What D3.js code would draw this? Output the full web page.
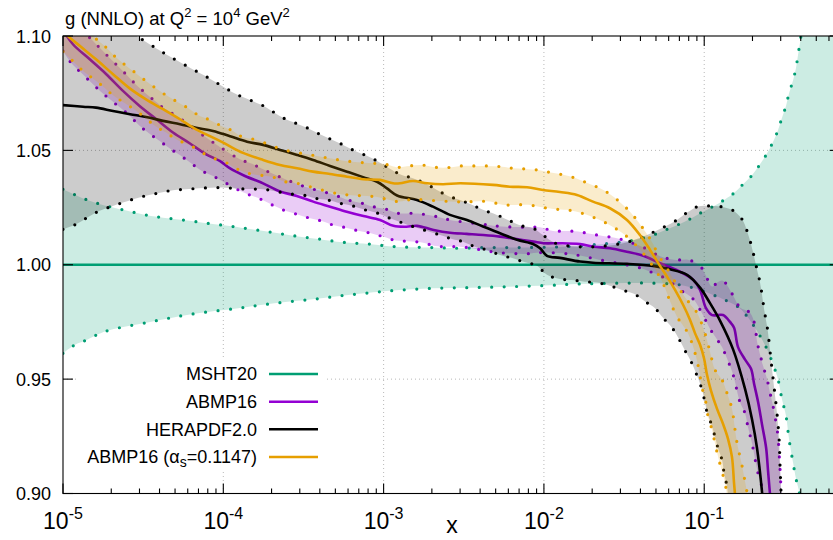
<!DOCTYPE html>
<html><head><meta charset="utf-8">
<script src="https://cdn.jsdelivr.net/npm/d3@7"></script>
<style>body{margin:0;background:#fff;}svg{display:block;font-family:"Liberation Sans",Arial,Helvetica,sans-serif;}</style>
</head><body><svg id="c" width="833" height="540"></svg>
<script>
// ---- data: [log10(x), ratio to MSHT20] ----
const mshtCentral = [[-5.0,1.0],[-0.15,1.0]];
const mshtUpper = [[-5.000,1.0330],[-4.919,1.0304],[-4.844,1.0282],[-4.769,1.0265],[-4.688,1.0250],[-4.613,1.0238],[-4.532,1.0225],[-4.451,1.0213],[-4.376,1.0206],[-4.295,1.0199],[-4.208,1.0192],[-4.127,1.0184],[-4.052,1.0177],[-3.971,1.0170],[-3.890,1.0162],[-3.727,1.0145],[-3.565,1.0127],[-3.409,1.0113],[-3.253,1.0098],[-3.085,1.0090],[-2.929,1.0079],[-2.692,1.0075],[-2.523,1.0072],[-2.355,1.0075],[-2.193,1.0075],[-2.037,1.0076],[-1.868,1.0079],[-1.650,1.0090],[-1.463,1.0105],[-1.338,1.0125],[-1.232,1.0155],[-1.163,1.0175],[-1.089,1.0200],[-1.026,1.0225],[-0.945,1.0255],[-0.883,1.0280],[-0.820,1.0310],[-0.758,1.0352],[-0.702,1.0391],[-0.652,1.0439],[-0.608,1.0487],[-0.571,1.0537],[-0.540,1.0588],[-0.515,1.0643],[-0.490,1.0694],[-0.471,1.0750],[-0.446,1.0806],[-0.427,1.0862],[-0.415,1.0917],[-0.402,1.0974],[-0.371,1.1150],[-0.153,1.3000]];
const mshtLower = [[-5.000,0.9613],[-4.925,0.9650],[-4.850,0.9672],[-4.782,0.9696],[-4.707,0.9715],[-4.457,0.9750],[-4.208,0.9783],[-3.908,0.9810],[-3.752,0.9825],[-3.584,0.9839],[-3.415,0.9851],[-3.260,0.9865],[-3.104,0.9876],[-2.941,0.9887],[-2.692,0.9897],[-2.449,0.9900],[-2.212,0.9904],[-1.962,0.9910],[-1.794,0.9916],[-1.638,0.9918],[-1.482,0.9920],[-1.338,0.9920],[-1.151,0.9912],[-1.026,0.9890],[-0.920,0.9861],[-0.858,0.9842],[-0.783,0.9813],[-0.727,0.9769],[-0.664,0.9703],[-0.608,0.9631],[-0.571,0.9565],[-0.540,0.9500],[-0.515,0.9412],[-0.490,0.9340],[-0.471,0.9238],[-0.446,0.9135],[-0.427,0.9063],[-0.409,0.9012],[-0.390,0.8950],[-0.340,0.8800],[-0.153,0.7000]];

const abmpCentral = [[-5.000,1.1027],[-4.938,1.0964],[-4.833,1.0898],[-4.730,1.0833],[-4.626,1.0760],[-4.522,1.0694],[-4.418,1.0636],[-4.314,1.0578],[-4.210,1.0531],[-4.106,1.0483],[-4.022,1.0454],[-3.960,1.0422],[-3.865,1.0388],[-3.752,1.0356],[-3.646,1.0320],[-3.542,1.0301],[-3.439,1.0276],[-3.334,1.0254],[-3.230,1.0232],[-3.126,1.0213],[-3.022,1.0196],[-2.939,1.0170],[-2.858,1.0166],[-2.792,1.0170],[-2.688,1.0152],[-2.586,1.0140],[-2.482,1.0135],[-2.378,1.0130],[-2.274,1.0123],[-2.170,1.0112],[-2.066,1.0101],[-2.003,1.0094],[-1.900,1.0094],[-1.775,1.0090],[-1.690,1.0079],[-1.588,1.0072],[-1.484,1.0057],[-1.380,1.0039],[-1.276,1.0007],[-1.172,0.9977],[-1.068,0.9934],[-1.026,0.9890],[-0.989,0.9810],[-0.951,0.9780],[-0.883,0.9780],[-0.839,0.9750],[-0.814,0.9725],[-0.789,0.9640],[-0.745,0.9585],[-0.708,0.9545],[-0.689,0.9480],[-0.664,0.9400],[-0.639,0.9300],[-0.614,0.9200],[-0.602,0.9100],[-0.590,0.9000],[-0.577,0.8900]];
const abmpUpper = [[-5.000,1.1110],[-4.844,1.1000],[-4.782,1.0956],[-4.726,1.0916],[-4.669,1.0876],[-4.613,1.0837],[-4.557,1.0796],[-4.501,1.0760],[-4.439,1.0723],[-4.376,1.0687],[-4.270,1.0640],[-4.145,1.0575],[-4.021,1.0515],[-3.896,1.0461],[-3.821,1.0441],[-3.752,1.0417],[-3.677,1.0393],[-3.603,1.0371],[-3.534,1.0352],[-3.459,1.0334],[-3.378,1.0320],[-3.291,1.0301],[-3.222,1.0283],[-3.135,1.0269],[-3.066,1.0254],[-2.985,1.0243],[-2.910,1.0225],[-2.823,1.0225],[-2.754,1.0221],[-2.667,1.0210],[-2.586,1.0196],[-2.349,1.0174],[-2.261,1.0167],[-2.105,1.0164],[-2.024,1.0164],[-1.943,1.0148],[-1.868,1.0147],[-1.787,1.0145],[-1.712,1.0135],[-1.631,1.0126],[-1.544,1.0116],[-1.475,1.0101],[-1.388,1.0079],[-1.313,1.0050],[-1.245,1.0030],[-1.170,1.0021],[-1.101,1.0022],[-1.026,0.9995],[-0.995,0.9960],[-0.951,0.9905],[-0.914,0.9925],[-0.883,0.9930],[-0.820,0.9866],[-0.777,0.9813],[-0.714,0.9790],[-0.683,0.9733],[-0.671,0.9667],[-0.633,0.9558],[-0.608,0.9500],[-0.590,0.9441],[-0.571,0.9383],[-0.552,0.9310],[-0.540,0.9252],[-0.533,0.9179],[-0.527,0.9107],[-0.521,0.9019],[-0.515,0.8900]];
const abmpLower = [[-5.000,1.0934],[-4.950,1.0883],[-4.888,1.0840],[-4.769,1.0760],[-4.707,1.0723],[-4.582,1.0650],[-4.526,1.0610],[-4.464,1.0575],[-4.395,1.0540],[-4.333,1.0508],[-4.264,1.0476],[-4.201,1.0444],[-4.133,1.0410],[-4.064,1.0388],[-3.989,1.0359],[-3.915,1.0330],[-3.846,1.0308],[-3.771,1.0288],[-3.696,1.0262],[-3.628,1.0240],[-3.546,1.0222],[-3.472,1.0206],[-3.391,1.0192],[-3.316,1.0174],[-3.235,1.0162],[-3.160,1.0149],[-3.079,1.0138],[-3.004,1.0123],[-2.923,1.0106],[-2.848,1.0103],[-2.760,1.0097],[-2.679,1.0082],[-2.604,1.0079],[-2.523,1.0079],[-2.367,1.0062],[-2.286,1.0053],[-2.199,1.0050],[-2.118,1.0047],[-2.043,1.0053],[-1.881,1.0050],[-1.775,1.0040],[-1.650,1.0021],[-1.525,1.0005],[-1.413,0.9989],[-1.338,0.9970],[-1.263,0.9948],[-1.201,0.9919],[-1.139,0.9885],[-1.070,0.9851],[-1.008,0.9780],[-0.964,0.9720],[-0.926,0.9680],[-0.889,0.9640],[-0.852,0.9580],[-0.820,0.9520],[-0.777,0.9400],[-0.745,0.9350],[-0.727,0.9290],[-0.702,0.9220],[-0.677,0.9130],[-0.658,0.9070],[-0.633,0.9010],[-0.621,0.8900]];

const heraCentral = [[-5.000,1.0698],[-4.875,1.0691],[-4.794,1.0687],[-4.688,1.0672],[-4.582,1.0658],[-4.482,1.0646],[-4.376,1.0629],[-4.270,1.0614],[-4.170,1.0599],[-4.064,1.0585],[-3.958,1.0562],[-3.852,1.0538],[-3.752,1.0524],[-3.646,1.0502],[-3.540,1.0480],[-3.440,1.0458],[-3.334,1.0432],[-3.228,1.0407],[-3.128,1.0383],[-3.041,1.0363],[-2.979,1.0334],[-2.916,1.0303],[-2.792,1.0283],[-2.692,1.0254],[-2.586,1.0218],[-2.480,1.0196],[-2.380,1.0167],[-2.274,1.0138],[-2.168,1.0109],[-2.068,1.0091],[-2.024,1.0072],[-1.981,1.0039],[-1.900,1.0030],[-1.775,1.0014],[-1.694,1.0009],[-1.482,1.0004],[-1.319,0.9995],[-1.213,0.9980],[-1.107,0.9956],[-1.026,0.9900],[-0.964,0.9832],[-0.901,0.9755],[-0.820,0.9630],[-0.745,0.9456],[-0.702,0.9325],[-0.671,0.9200],[-0.639,0.9004],[-0.627,0.8900]];
const heraUpper = [[-5.000,1.1250],[-4.750,1.1120],[-4.582,1.1020],[-4.482,1.0974],[-4.401,1.0939],[-4.333,1.0910],[-4.264,1.0883],[-4.189,1.0854],[-4.120,1.0828],[-4.052,1.0800],[-3.983,1.0771],[-3.908,1.0742],[-3.833,1.0720],[-3.759,1.0698],[-3.690,1.0669],[-3.621,1.0640],[-3.546,1.0618],[-3.472,1.0597],[-3.397,1.0570],[-3.322,1.0546],[-3.253,1.0524],[-3.178,1.0497],[-3.104,1.0476],[-3.035,1.0451],[-2.966,1.0422],[-2.898,1.0396],[-2.817,1.0378],[-2.742,1.0356],[-2.667,1.0327],[-2.598,1.0301],[-2.523,1.0283],[-2.449,1.0262],[-2.380,1.0240],[-2.293,1.0218],[-2.224,1.0196],[-2.137,1.0170],[-2.068,1.0160],[-2.006,1.0130],[-1.931,1.0095],[-1.806,1.0080],[-1.650,1.0080],[-1.475,1.0100],[-1.319,1.0142],[-1.245,1.0167],[-1.170,1.0196],[-1.107,1.0228],[-1.039,1.0255],[-0.964,1.0257],[-0.895,1.0254],[-0.827,1.0240],[-0.764,1.0199],[-0.733,1.0148],[-0.708,1.0090],[-0.689,1.0036],[-0.671,0.9980],[-0.652,0.9922],[-0.639,0.9867],[-0.627,0.9808],[-0.614,0.9755],[-0.602,0.9704],[-0.593,0.9645],[-0.583,0.9580],[-0.565,0.9470],[-0.546,0.9350],[-0.533,0.9240],[-0.527,0.9120],[-0.521,0.9010],[-0.515,0.8900]];
const heraLower = [[-5.000,1.0155],[-4.919,1.0177],[-4.850,1.0206],[-4.775,1.0235],[-4.701,1.0254],[-4.626,1.0272],[-4.551,1.0289],[-4.470,1.0304],[-4.395,1.0315],[-4.314,1.0326],[-4.233,1.0330],[-4.152,1.0334],[-4.070,1.0337],[-3.989,1.0337],[-3.908,1.0332],[-3.827,1.0331],[-3.752,1.0330],[-3.665,1.0320],[-3.590,1.0310],[-3.503,1.0305],[-3.428,1.0291],[-3.347,1.0283],[-3.272,1.0269],[-3.191,1.0257],[-3.116,1.0240],[-3.035,1.0225],[-2.960,1.0203],[-2.885,1.0184],[-2.817,1.0167],[-2.648,1.0130],[-2.573,1.0113],[-2.505,1.0101],[-2.430,1.0079],[-2.355,1.0065],[-2.274,1.0043],[-2.193,1.0028],[-2.118,1.0011],[-2.043,0.9996],[-1.981,0.9956],[-1.900,0.9938],[-1.825,0.9933],[-1.744,0.9926],[-1.669,0.9922],[-1.588,0.9908],[-1.513,0.9890],[-1.438,0.9873],[-1.369,0.9839],[-1.307,0.9810],[-1.257,0.9768],[-1.201,0.9725],[-1.157,0.9675],[-1.120,0.9625],[-1.082,0.9577],[-1.051,0.9526],[-1.020,0.9468],[-1.001,0.9417],[-0.983,0.9358],[-0.958,0.9308],[-0.933,0.9249],[-0.914,0.9198],[-0.889,0.9147],[-0.876,0.9089],[-0.858,0.9031],[-0.845,0.8950]];

const abmpAsCentral = [[-5.000,1.1025],[-4.969,1.1000],[-4.894,1.0956],[-4.794,1.0898],[-4.688,1.0833],[-4.582,1.0770],[-4.482,1.0723],[-4.376,1.0680],[-4.270,1.0636],[-4.170,1.0592],[-4.064,1.0556],[-3.983,1.0527],[-3.877,1.0489],[-3.752,1.0458],[-3.646,1.0436],[-3.540,1.0422],[-3.440,1.0407],[-3.334,1.0397],[-3.228,1.0385],[-3.128,1.0374],[-3.022,1.0371],[-2.941,1.0356],[-2.898,1.0356],[-2.817,1.0366],[-2.729,1.0356],[-2.629,1.0352],[-2.523,1.0356],[-2.318,1.0349],[-2.212,1.0341],[-2.105,1.0339],[-2.006,1.0327],[-1.900,1.0318],[-1.794,1.0305],[-1.694,1.0276],[-1.588,1.0247],[-1.482,1.0196],[-1.401,1.0130],[-1.338,1.0065],[-1.276,0.9995],[-1.232,0.9948],[-1.182,0.9890],[-1.132,0.9825],[-1.089,0.9760],[-1.057,0.9700],[-1.026,0.9650],[-1.001,0.9590],[-0.983,0.9520],[-0.958,0.9450],[-0.920,0.9370],[-0.883,0.9305],[-0.852,0.9240],[-0.827,0.9160],[-0.814,0.9045],[-0.808,0.8995],[-0.802,0.8900]];
const abmpAsUpper = [[-5.000,1.1150],[-4.802,1.0993],[-4.740,1.0956],[-4.684,1.0916],[-4.626,1.0881],[-4.563,1.0847],[-4.497,1.0811],[-4.434,1.0778],[-4.366,1.0745],[-4.297,1.0716],[-4.226,1.0687],[-4.158,1.0655],[-4.085,1.0633],[-4.012,1.0607],[-3.940,1.0585],[-3.885,1.0560],[-3.792,1.0546],[-3.709,1.0524],[-3.636,1.0505],[-3.553,1.0492],[-3.476,1.0483],[-3.397,1.0473],[-3.318,1.0463],[-3.241,1.0454],[-3.158,1.0448],[-3.074,1.0444],[-2.998,1.0441],[-2.918,1.0426],[-2.840,1.0432],[-2.762,1.0436],[-2.679,1.0426],[-2.596,1.0425],[-2.513,1.0432],[-2.436,1.0432],[-2.357,1.0432],[-2.274,1.0429],[-2.195,1.0422],[-2.118,1.0419],[-2.035,1.0414],[-1.958,1.0403],[-1.879,1.0393],[-1.800,1.0378],[-1.725,1.0356],[-1.650,1.0334],[-1.581,1.0305],[-1.513,1.0266],[-1.463,1.0232],[-1.413,1.0189],[-1.363,1.0140],[-1.319,1.0091],[-1.288,1.0043],[-1.245,1.0000],[-1.195,0.9940],[-1.132,0.9870],[-1.089,0.9830],[-1.045,0.9790],[-0.995,0.9700],[-0.964,0.9620],[-0.933,0.9541],[-0.889,0.9497],[-0.858,0.9439],[-0.827,0.9370],[-0.808,0.9280],[-0.795,0.9220],[-0.764,0.9121],[-0.745,0.9050],[-0.727,0.8980],[-0.714,0.8900]];
const abmpAsLower = [[-5.000,1.0932],[-4.938,1.0890],[-4.875,1.0847],[-4.813,1.0814],[-4.750,1.0779],[-4.688,1.0741],[-4.626,1.0712],[-4.557,1.0680],[-4.488,1.0643],[-4.426,1.0607],[-4.357,1.0578],[-4.295,1.0549],[-4.208,1.0522],[-4.145,1.0497],[-4.077,1.0468],[-4.002,1.0454],[-3.927,1.0423],[-3.846,1.0400],[-3.690,1.0383],[-3.615,1.0363],[-3.540,1.0356],[-3.459,1.0341],[-3.297,1.0312],[-3.222,1.0305],[-3.141,1.0302],[-3.060,1.0298],[-2.979,1.0286],[-2.904,1.0276],[-2.823,1.0286],[-2.742,1.0283],[-2.523,1.0275],[-2.336,1.0276],[-2.261,1.0262],[-2.099,1.0262],[-2.012,1.0251],[-1.931,1.0243],[-1.856,1.0240],[-1.775,1.0228],[-1.700,1.0210],[-1.631,1.0189],[-1.556,1.0160],[-1.494,1.0130],[-1.432,1.0090],[-1.369,1.0040],[-1.307,0.9980],[-1.257,0.9919],[-1.213,0.9840],[-1.170,0.9773],[-1.107,0.9708],[-1.076,0.9657],[-1.057,0.9613],[-1.039,0.9562],[-1.008,0.9446],[-0.989,0.9395],[-0.976,0.9336],[-0.951,0.9278],[-0.933,0.9220],[-0.914,0.9162],[-0.889,0.9096],[-0.870,0.9045],[-0.858,0.8990],[-0.845,0.8900]];

const seriesNames = ["MSHT20","ABMP16","HERAPDF2.0","ABMP16 (αs=0.1147)"];
const xMajorExp = [-5,-4,-3,-2,-1];
const xMinorMult = [2,3,4,5,6,7,8,9];
const yTicks = [0.90,0.95,1.00,1.05,1.10];
const yGrid = [0.95,1.00,1.05];
const xDomain = [1e-5,0.7];
const yDomain = [0.9,1.1];

// ---- drawing ----
const colors = ["#009e73","#9400d3","#000000","#e69f00"];
const M = {l:63, r:839.7, t:36, b:493.5};
const svg = d3.select("#c");
const x = d3.scaleLog().domain(xDomain).range([M.l, M.r]);
const y = d3.scaleLinear().domain(yDomain).range([M.b, M.t]);
const gx = d => x(Math.pow(10, d[0])), gy = d => y(d[1]);
const lineGen = d3.line().x(gx).y(gy).curve(d3.curveCatmullRom.alpha(0.5));

svg.append("defs").append("clipPath").attr("id","clip").append("rect")
  .attr("x",M.l).attr("y",M.t).attr("width",M.r-M.l).attr("height",M.b-M.t);

// grid
const grid = svg.append("g").attr("stroke","#b0b0b0").attr("stroke-width",0.9).attr("stroke-dasharray","1,3");
xMajorExp.slice(1).forEach(e => grid.append("line").attr("x1",x(Math.pow(10,e))).attr("x2",x(Math.pow(10,e))).attr("y1",M.t).attr("y2",M.b));
yGrid.forEach(v => grid.append("line").attr("x1",M.l).attr("x2",M.r).attr("y1",y(v)).attr("y2",y(v)));

const seriesList = [
  {c:colors[0], central:mshtCentral, upper:mshtUpper, lower:mshtLower},
  {c:colors[1], central:abmpCentral, upper:abmpUpper, lower:abmpLower},
  {c:colors[2], central:heraCentral, upper:heraUpper, lower:heraLower},
  {c:colors[3], central:abmpAsCentral, upper:abmpAsUpper, lower:abmpAsLower}
];
const plot = svg.append("g").attr("clip-path","url(#clip)");
seriesList.forEach(s => {
  const up = lineGen(s.upper), lo = lineGen(s.lower.slice().reverse());
  plot.append("path").attr("d", up + "L" + lo.slice(1) + "Z").attr("fill", s.c).attr("fill-opacity", 0.2).attr("stroke","none");
  [s.upper, s.lower].forEach(e => plot.append("path").attr("d", lineGen(e)).attr("fill","none")
     .attr("stroke", s.c).attr("stroke-width",3.2).attr("stroke-linecap","round").attr("stroke-dasharray","0 12.5"));
  plot.append("path").attr("d", lineGen(s.central)).attr("fill","none").attr("stroke", s.c).attr("stroke-width",2.6);
});

// frame and ticks
const ax = svg.append("g").attr("stroke","#000").attr("stroke-width",1.1);
ax.append("rect").attr("x",M.l).attr("y",M.t).attr("width",M.r-M.l).attr("height",M.b-M.t).attr("fill","none");
xMajorExp.forEach(e => {
  const xv = x(Math.pow(10,e));
  ax.append("line").attr("x1",xv).attr("x2",xv).attr("y1",M.b).attr("y2",M.b-10);
  ax.append("line").attr("x1",xv).attr("x2",xv).attr("y1",M.t).attr("y2",M.t+10);
  xMinorMult.forEach(k => {
    const v = k*Math.pow(10,e);
    if (v > xDomain[1]) return;
    const xm = x(v);
    ax.append("line").attr("x1",xm).attr("x2",xm).attr("y1",M.b).attr("y2",M.b-5);
    ax.append("line").attr("x1",xm).attr("x2",xm).attr("y1",M.t).attr("y2",M.t+5);
  });
});
yTicks.forEach(v => {
  ax.append("line").attr("x1",M.l).attr("x2",M.l+10).attr("y1",y(v)).attr("y2",y(v));
  ax.append("line").attr("x1",M.r-10).attr("x2",M.r).attr("y1",y(v)).attr("y2",y(v));
});

// tick labels
yTicks.forEach(v => svg.append("text").attr("x",51).attr("y",y(v)+6.5).attr("text-anchor","end")
  .attr("font-size",18).attr("fill","#000").text(d3.format(".2f")(v)));
xMajorExp.forEach(e => {
  const t = svg.append("text").attr("x",x(Math.pow(10,e))).attr("y",529).attr("text-anchor","middle").attr("font-size",23).attr("fill","#000");
  t.append("tspan").text("10");
  t.append("tspan").attr("dy",-10).attr("font-size",16).text("-" + Math.abs(e));
});
svg.append("text").attr("x",452).attr("y",533).attr("text-anchor","middle").attr("font-size",23).text("x");

// title
const title = svg.append("text").attr("x",65).attr("y",25).attr("font-size",18.5).attr("fill","#000");
title.append("tspan").text("g (NNLO) at Q");
title.append("tspan").attr("dy",-8).attr("font-size",13).text("2");
title.append("tspan").attr("dy",8).text(" = 10");
title.append("tspan").attr("dy",-8).attr("font-size",13).text("4");
title.append("tspan").attr("dy",8).text(" GeV");
title.append("tspan").attr("dy",-8).attr("font-size",13).text("2");

// legend
svg.append("rect").attr("x",78).attr("y",358).attr("width",248).attr("height",114).attr("fill","#fff");
const rows = [374, 401.7, 429.3, 457];
seriesNames.forEach((n,i) => {
  const t = svg.append("text").attr("x",257).attr("y",rows[i]+6.4).attr("text-anchor","end").attr("font-size",18).attr("fill","#000");
  const m = n.match(/^(.*\(α)s(=.*)$/);
  if (m) {
    t.append("tspan").text(m[1]);
    t.append("tspan").attr("dy",4).attr("font-size",14).text("s");
    t.append("tspan").attr("dy",-4).text(m[2]);
  } else t.text(n);
  svg.append("line").attr("x1",269).attr("x2",318).attr("y1",rows[i]).attr("y2",rows[i]).attr("stroke",colors[i]).attr("stroke-width",2.6);
});
</script></body></html>
